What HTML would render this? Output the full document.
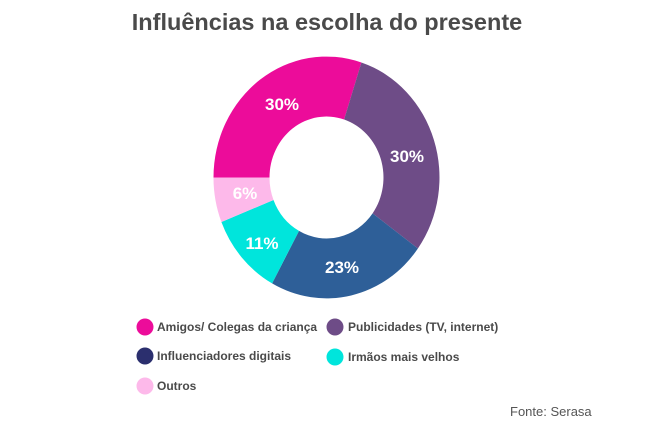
<!DOCTYPE html>
<html><head><meta charset="utf-8"><style>
body{margin:0;background:#fff;width:654px;height:428px;overflow:hidden;font-family:"Liberation Sans",sans-serif}
</style></head><body>
<svg width="654" height="428" xmlns="http://www.w3.org/2000/svg" font-family="Liberation Sans, sans-serif">
<text x="327" y="30" text-anchor="middle" font-size="23.5" font-weight="bold" fill="#4a4a4a">Influências na escolha do presente</text>
<g transform="translate(326.5,177.5) scale(1,1.07)">
<path d="M-113,0 A113,113 0 0 1 34.9,-107.5 L17.6,-54.2 A57,57 0 0 0 -57,0 Z" fill="#ec0c9a"/>
<path d="M34.9,-107.5 A113,113 0 0 1 91.4,66.4 L46.1,33.5 A57,57 0 0 0 17.6,-54.2 Z" fill="#6e4c87"/>
<path d="M91.4,66.4 A113,113 0 0 1 -54.4,99.0 L-27.5,49.9 A57,57 0 0 0 46.1,33.5 Z" fill="#2e5f98"/>
<path d="M-54.4,99.0 A113,113 0 0 1 -105.1,41.6 L-53.0,21.0 A57,57 0 0 0 -27.5,49.9 Z" fill="#00e5dc"/>
<path d="M-105.1,41.6 A113,113 0 0 1 -113,0 L-57,0 A57,57 0 0 0 -53.0,21.0 Z" fill="#fdb9ea"/>
</g>
<g fill="#fff" font-weight="bold" font-size="17" text-anchor="middle">
<text x="282" y="110">30%</text>
<text x="407" y="162">30%</text>
<text x="342" y="273">23%</text>
<text x="262" y="249">11%</text>
<text x="245" y="199">6%</text>
</g>
<g font-size="12" font-weight="bold" fill="#4a4a4a">
<circle cx="145" cy="327" r="8.5" fill="#ec0c9a"/><text x="157" y="331">Amigos/ Colegas da criança</text>
<circle cx="335" cy="327" r="8.5" fill="#6e4c87"/><text x="348" y="331">Publicidades (TV, internet)</text>
<circle cx="145" cy="356" r="8.5" fill="#2b2f6e"/><text x="157" y="360">Influenciadores digitais</text>
<circle cx="335" cy="357" r="8.5" fill="#00e5dc"/><text x="348" y="361">Irmãos mais velhos</text>
<circle cx="145" cy="386" r="8.5" fill="#fdb9ea"/><text x="157" y="390">Outros</text>
</g>
<text x="510" y="416" font-size="13" fill="#555">Fonte: Serasa</text>
</svg>
</body></html>
